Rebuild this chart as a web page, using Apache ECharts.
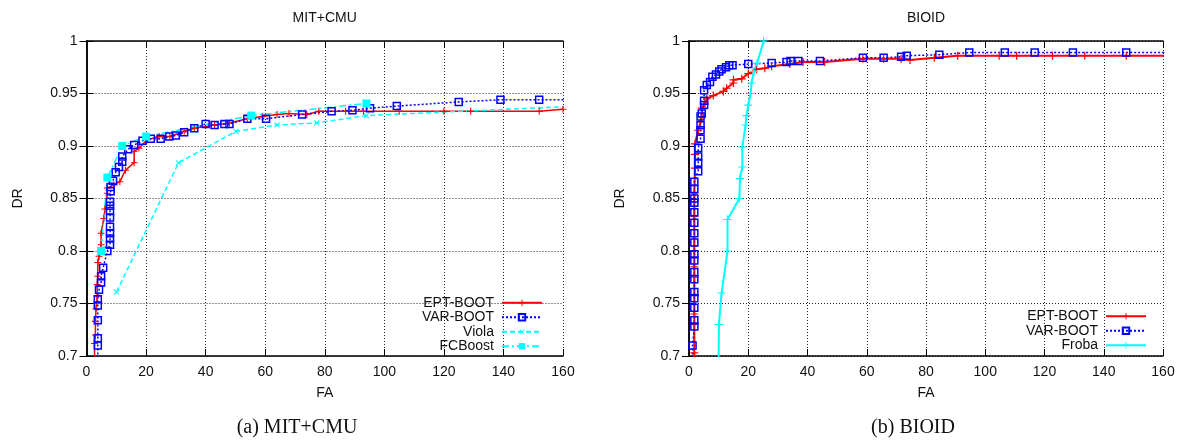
<!DOCTYPE html>
<html>
<head>
<meta charset="utf-8">
<script src="https://cdn.jsdelivr.net/npm/echarts@6/dist/echarts.min.js"></script>
<style>html,body{margin:0;padding:0;background:#fff;}#c{width:1184px;height:444px;}</style>
</head>
<body>
<div id="c"></div>
<script>
// ---- axis ticks ----
const xTicks = [0, 20, 40, 60, 80, 100, 120, 140, 160];
const yTicks = [0.7, 0.75, 0.8, 0.85, 0.9, 0.95, 1];

// ---- (a) MIT+CMU ----
const mitEpt = [[2.7,0.690],[2.7,0.712],[3.0,0.720],[3.0,0.733],[3.2,0.745],[3.6,0.757],[3.6,0.768],[3.8,0.776],[3.8,0.789],[4.2,0.795],[4.9,0.806],[4.9,0.817],[5.8,0.831],[6.2,0.840],[7.0,0.855],[7.0,0.860],[9.2,0.863],[11.2,0.866],[13.1,0.877],[16.0,0.884],[16.0,0.895],[17.6,0.898],[20.4,0.906],[24.4,0.909],[28,0.909],[32.8,0.914],[36.2,0.917],[43,0.920],[48,0.922],[54,0.926],[59,0.928],[64,0.930],[68,0.931],[74,0.930],[78,0.933],[87,0.933],[93,0.933],[105,0.933],[120,0.933],[129,0.933],[152,0.933],[160,0.935]];
const mitVar = [[3.8,0.690],[3.8,0.710],[3.8,0.717],[3.8,0.734],[3.8,0.748],[3.8,0.754],[4.2,0.763],[4.9,0.770],[4.9,0.776],[5.6,0.784],[7.0,0.800],[7.9,0.806],[7.9,0.812],[7.9,0.817],[7.9,0.823],[7.9,0.832],[7.9,0.838],[7.9,0.843],[7.9,0.847],[8.1,0.857],[8.1,0.861],[8.9,0.867],[9.8,0.875],[10.9,0.880],[12.0,0.885],[12.0,0.890],[14.0,0.897],[16.0,0.901],[18.8,0.905],[21.6,0.907],[24.9,0.907],[27.8,0.909],[30,0.910],[32.8,0.913],[36.2,0.917],[40,0.921],[43,0.920],[46.3,0.921],[48,0.921],[54,0.926],[60.3,0.926],[72.4,0.930],[82.3,0.933],[89.3,0.934],[95.2,0.936],[104.2,0.938],[125,0.942],[139,0.944],[152,0.944],[165,0.944]];
const mitViola = [[10.1,0.761],[30.9,0.884],[50.2,0.914],[64,0.920],[77.3,0.922],[94,0.929],[165,0.938]];
const mitFcb = [[4.9,0.800],[7.0,0.870],[12.0,0.900],[20,0.909],[55.3,0.929],[94,0.9405]];

// ---- (b) BIOID ----
const bioEpt = [[1.8,0.690],[1.8,0.703],[1.8,0.730],[1.8,0.740],[1.8,0.775],[1.8,0.785],[1.8,0.805],[1.8,0.833],[1.8,0.855],[2.0,0.879],[2.0,0.892],[2.0,0.902],[3.1,0.915],[3.9,0.923],[4.3,0.928],[4.3,0.936],[5.4,0.940],[6.0,0.945],[8.2,0.948],[11.6,0.952],[12.7,0.955],[15,0.960],[15,0.963],[17.8,0.964],[20,0.969],[22.8,0.973],[25.6,0.974],[27.9,0.976],[34,0.978],[38.5,0.980],[45.8,0.980],[58.7,0.983],[65.7,0.983],[71.6,0.983],[74.6,0.982],[82.8,0.984],[90.7,0.986],[104.7,0.986],[110.6,0.986],[122.7,0.986],[133.6,0.986],[147.6,0.986],[165,0.986]];
const bioVar = [[1.2,0.690],[1.2,0.710],[1.8,0.728],[1.8,0.734],[1.8,0.746],[1.8,0.755],[1.8,0.761],[1.8,0.773],[1.8,0.780],[1.8,0.791],[1.8,0.797],[1.8,0.808],[1.8,0.817],[1.8,0.827],[1.8,0.837],[1.8,0.846],[1.8,0.850],[1.8,0.859],[1.8,0.866],[3.1,0.876],[3.1,0.884],[3.1,0.890],[3.1,0.898],[3.9,0.907],[3.9,0.915],[3.9,0.920],[3.9,0.928],[4.3,0.931],[5.1,0.939],[5.1,0.943],[5.1,0.953],[6.0,0.958],[7.1,0.961],[7.9,0.966],[9.1,0.968],[10.2,0.971],[11,0.973],[12.5,0.975],[13.6,0.977],[14.7,0.977],[20,0.978],[27.9,0.979],[32.9,0.980],[34.3,0.981],[36.9,0.981],[44.2,0.981],[58.7,0.984],[65.7,0.984],[71.6,0.985],[73.5,0.986],[84.5,0.987],[94.6,0.989],[106.6,0.989],[116.7,0.989],[129.6,0.989],[147.6,0.989],[165,0.989]];
const bioFroba = [[10.0,0.690],[10.1,0.730],[11,0.760],[13,0.800],[13,0.830],[17,0.850],[17.2,0.869],[18,0.880],[18,0.899],[19.1,0.920],[19.4,0.929],[20,0.939],[20.8,0.950],[21.1,0.960],[21.9,0.971],[23,0.979],[25.2,1.0]];

const FONT = 'Liberation Sans, Arial, Helvetica, sans-serif';
const PLUS = 'path://M4.25,0H5.75V10H4.25Z M0,4.25H10V5.75H0Z';
const RED = '#ff0000', BLUE = '#0000ff', CYAN = '#00ffff';

const G = [
  {left: 86.5, top: 41, width: 476.5, height: 315},
  {left: 689, top: 41, width: 474, height: 315}
];

function xAx(gi, pos) {
  const main = pos === 'bottom';
  return {
    type: 'value', gridIndex: gi, position: pos,
    min: xTicks[0], max: xTicks[xTicks.length - 1], interval: xTicks[1] - xTicks[0],
    axisLine: {show: true, lineStyle: {color: '#000', width: 1.5}},
    axisTick: {show: true, inside: true, length: 7, lineStyle: {color: '#000', width: 1}},
    axisLabel: {show: main, margin: 9, color: '#111', fontSize: 14, fontFamily: FONT},
    splitLine: {show: main, lineStyle: {color: '#222', width: 1, type: [1, 2]}}
  };
}
function yAx(gi, pos) {
  const main = pos === 'left';
  return {
    type: 'value', gridIndex: gi, position: pos,
    min: yTicks[0], max: yTicks[yTicks.length - 1], interval: 0.05,
    axisLine: {show: true, lineStyle: {color: '#000', width: 1.5}},
    axisTick: {show: true, inside: true, length: 7, lineStyle: {color: '#000', width: 1}},
    axisLabel: {show: main, margin: 9, color: '#111', fontSize: 14, fontFamily: FONT,
      formatter: v => String(+v.toFixed(2))},
    splitLine: {show: main, lineStyle: {color: '#222', width: 1, type: [1, 2]}}
  };
}

function ser(name, data, gi, o) {
  return {
    type: 'line', name: name, data: data, xAxisIndex: gi, yAxisIndex: gi,
    smooth: false, clip: true, animation: false,
    symbol: o.symbol, symbolSize: o.size, symbolRotate: o.rot || 0,
    lineStyle: {color: o.color, width: o.width, type: o.type || 'solid'},
    itemStyle: {color: o.fill, borderColor: o.color, borderWidth: o.bw || 0},
    emphasis: {disabled: true}
  };
}

const series = [
  ser('EPT-BOOT', mitEpt, 0, {symbol: PLUS, size: 7, color: RED, fill: RED, width: 1.5}),
  ser('VAR-BOOT', mitVar, 0, {symbol: 'rect', size: 7, color: BLUE, fill: 'rgba(255,255,255,0)', bw: 1.5, width: 1.5, type: [2, 2]}),
  ser('Viola', mitViola, 0, {symbol: PLUS, size: 7, rot: 45, color: CYAN, fill: CYAN, width: 1.5, type: [5, 3]}),
  ser('FCBoost', mitFcb, 0, {symbol: 'rect', size: 8, color: CYAN, fill: CYAN, width: 1.5, type: [7, 3, 2, 3]}),
  ser('EPT-BOOT (b)', bioEpt, 1, {symbol: PLUS, size: 8, color: RED, fill: RED, width: 2}),
  ser('VAR-BOOT (b)', bioVar, 1, {symbol: 'rect', size: 7, color: BLUE, fill: 'rgba(255,255,255,0)', bw: 1.5, width: 1.5, type: [2, 2]}),
  ser('Froba', bioFroba, 1, {symbol: PLUS, size: 8, color: CYAN, fill: CYAN, width: 2})
];

function leg(names, right, top) {
  return {
    data: names, orient: 'vertical', align: 'right', right: right, top: top,
    padding: 0, itemGap: 0, itemWidth: 40, itemHeight: 8, selectedMode: false,
    formatter: n => n.replace(' (b)', ''),
    textStyle: {fontSize: 14, fontFamily: FONT, color: '#111', lineHeight: 14.5, padding: [0, 3, 0, 0]}
  };
}

function txt(s, x, y, size, fam, rot) {
  return {type: 'text', x: x, y: y, rotation: rot || 0, silent: true,
    style: {text: s, fontSize: size, fontFamily: fam, fill: '#111', align: 'center', verticalAlign: 'middle'}};
}

const chart = echarts.init(document.getElementById('c'), null, {renderer: 'canvas'});
chart.setOption({
  backgroundColor: '#fff',
  animation: false,
  grid: G.map(g => Object.assign({show: false, containLabel: false}, g)),
  xAxis: [xAx(0, 'bottom'), xAx(1, 'bottom'), xAx(0, 'top'), xAx(1, 'top')],
  yAxis: [yAx(0, 'left'), yAx(1, 'left'), yAx(0, 'right'), yAx(1, 'right')],
  legend: [
    leg(['EPT-BOOT', 'VAR-BOOT', 'Viola', 'FCBoost'], 641, 295.5),
    leg(['EPT-BOOT (b)', 'VAR-BOOT (b)', 'Froba'], 37, 309)
  ],
  series: series,
  graphic: [
    txt('MIT+CMU', 324.7, 18, 14, FONT),
    txt('BIOID', 926, 18, 14, FONT),
    txt('DR', 18, 198.5, 14, FONT, Math.PI / 2),
    txt('DR', 620, 198.5, 14, FONT, Math.PI / 2),
    txt('FA', 324.7, 393, 14, FONT),
    txt('FA', 926, 393, 14, FONT),
    txt('(a) MIT+CMU', 297, 428, 20, 'Liberation Serif, DejaVu Serif, serif'),
    txt('(b) BIOID', 913, 428, 20, 'Liberation Serif, DejaVu Serif, serif')
  ]
});
</script>
</body>
</html>
